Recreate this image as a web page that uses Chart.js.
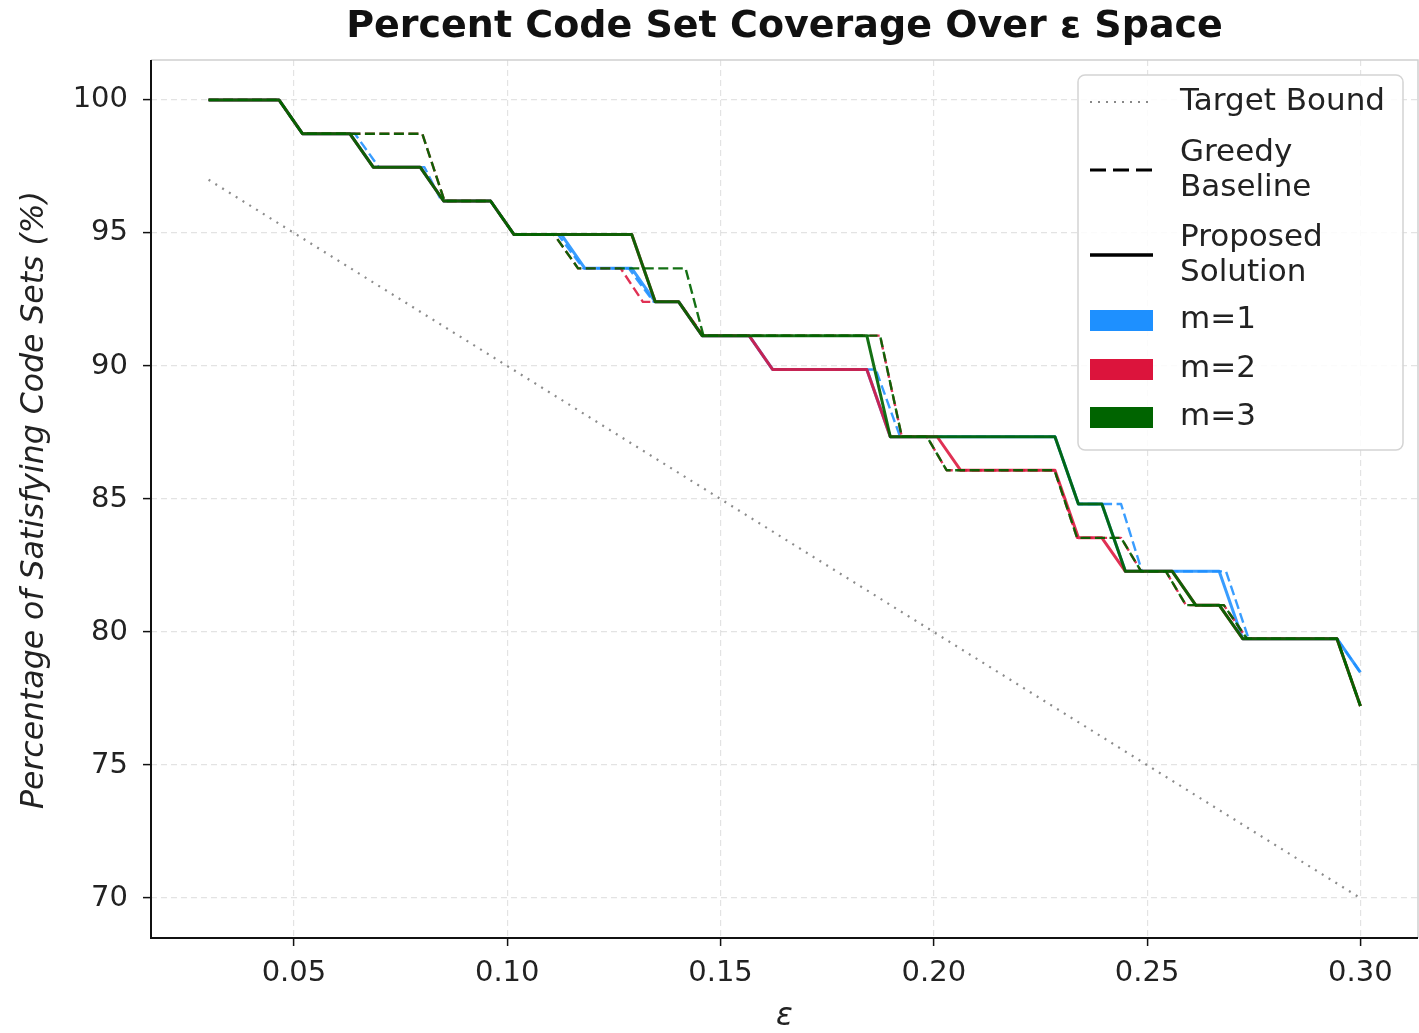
<!DOCTYPE html>
<html lang="en">
<head>
<meta charset="UTF-8">
<title>Percent Code Set Coverage Over ε Space</title>
<style>
    body { margin: 0; background: #ffffff; }
    #wrap { width: 1419px; height: 1033px; }
</style>
</head>
<body>
<div id="wrap"><canvas id="coverage-chart" width="1419" height="1033"></canvas></div>

<script src="https://cdn.jsdelivr.net/npm/chart.js"></script>
<script>
    // epsilon grid of the proposed solution (50 samples)
    const eps = [
        0.0300, 0.0355, 0.0410, 0.0465, 0.0520, 0.0576, 0.0631, 0.0686, 0.0741, 0.0796,
        0.0851, 0.0906, 0.0961, 0.1016, 0.1071, 0.1127, 0.1182, 0.1237, 0.1292, 0.1347,
        0.1402, 0.1457, 0.1512, 0.1567, 0.1622, 0.1678, 0.1733, 0.1788, 0.1843, 0.1898,
        0.1953, 0.2008, 0.2063, 0.2118, 0.2173, 0.2229, 0.2284, 0.2339, 0.2394, 0.2449,
        0.2504, 0.2559, 0.2614, 0.2669, 0.2724, 0.2780, 0.2835, 0.2890, 0.2945, 0.3000
    ];

    // proposed solution, % of satisfying code sets
    const propM1 = [
        100, 100, 100, 100, 98.73, 98.73, 98.73, 97.47, 97.47, 97.47,
        96.20, 96.20, 96.20, 94.94, 94.94, 94.94, 93.67, 93.67, 93.67, 92.41,
        92.41, 91.14, 91.14, 91.14, 89.87, 89.87, 89.87, 89.87, 89.87, 87.34,
        87.34, 87.34, 87.34, 87.34, 87.34, 87.34, 87.34, 84.81, 84.81, 82.28,
        82.28, 82.28, 82.28, 82.28, 79.75, 79.75, 79.75, 79.75, 79.75, 78.48
    ];
    const propM2 = [
        100, 100, 100, 100, 98.73, 98.73, 98.73, 97.47, 97.47, 97.47,
        96.20, 96.20, 96.20, 94.94, 94.94, 94.94, 94.94, 94.94, 94.94, 92.41,
        92.41, 91.14, 91.14, 91.14, 89.87, 89.87, 89.87, 89.87, 89.87, 87.34,
        87.34, 87.34, 86.08, 86.08, 86.08, 86.08, 86.08, 83.54, 83.54, 82.28,
        82.28, 82.28, 81.01, 81.01, 79.75, 79.75, 79.75, 79.75, 79.75, 77.22
    ];
    const propM3 = [
        100, 100, 100, 100, 98.73, 98.73, 98.73, 97.47, 97.47, 97.47,
        96.20, 96.20, 96.20, 94.94, 94.94, 94.94, 94.94, 94.94, 94.94, 92.41,
        92.41, 91.14, 91.14, 91.14, 91.14, 91.14, 91.14, 91.14, 91.14, 87.34,
        87.34, 87.34, 87.34, 87.34, 87.34, 87.34, 87.34, 84.81, 84.81, 82.28,
        82.28, 82.28, 81.01, 81.01, 79.75, 79.75, 79.75, 79.75, 79.75, 77.22
    ];

    // greedy baseline (breakpoints)
    const greedyM1X = [0.0300, 0.0465, 0.0520, 0.0643, 0.0699, 0.0806, 0.0846, 0.0961, 0.1016, 0.1119,
        0.1178, 0.1285, 0.1343, 0.1402, 0.1457, 0.1567, 0.1622, 0.1864, 0.1921, 0.2284,
        0.2339, 0.2439, 0.2488, 0.2685, 0.2738, 0.2945, 0.3000];
    const greedyM1Y = [100, 100, 98.73, 98.73, 97.47, 97.47, 96.20, 96.20, 94.94, 94.94,
        93.67, 93.67, 92.41, 92.41, 91.14, 91.14, 89.87, 89.87, 87.34, 87.34,
        84.81, 84.81, 82.28, 82.28, 79.75, 79.75, 78.48];

    const greedyM2X = [0.0300, 0.0465, 0.0520, 0.0801, 0.0853, 0.0961, 0.1016, 0.1110, 0.1166, 0.1266,
        0.1318, 0.1402, 0.1460, 0.1874, 0.1925, 0.1984, 0.2030, 0.2283, 0.2336, 0.2439,
        0.2486, 0.2544, 0.2591, 0.2680, 0.2734, 0.2945, 0.3000];
    const greedyM2Y = [100, 100, 98.73, 98.73, 96.20, 96.20, 94.94, 94.94, 93.67, 93.67,
        92.41, 92.41, 91.14, 91.14, 87.34, 87.34, 86.08, 86.08, 83.54, 83.54,
        82.28, 82.28, 81.01, 81.01, 79.75, 79.75, 77.22];

    const greedyM3X = [0.0300, 0.0465, 0.0520, 0.0801, 0.0853, 0.0961, 0.1016, 0.1110, 0.1166, 0.1418,
        0.1460, 0.1874, 0.1925, 0.1984, 0.2030, 0.2283, 0.2336, 0.2439, 0.2486, 0.2544,
        0.2591, 0.2680, 0.2734, 0.2945, 0.3000];
    const greedyM3Y = [100, 100, 98.73, 98.73, 96.20, 96.20, 94.94, 94.94, 93.67, 93.67,
        91.14, 91.14, 87.34, 87.34, 86.08, 86.08, 83.54, 83.54, 82.28, 82.28,
        81.01, 81.01, 79.75, 79.75, 77.22];

    // target bound 100(1 - eps)
    const targetX = [0.03, 0.30];
    const targetY = [97, 70];

    const xTicks = [0.05, 0.10, 0.15, 0.20, 0.25, 0.30];
    const yTicks = [70, 75, 80, 85, 90, 95, 100];

    const legendRows = ['Target Bound', 'Greedy\nBaseline', 'Proposed\nSolution', 'm=1', 'm=2', 'm=3'];

    const colM1 = 'rgba(30, 144, 255, 0.88)';
    const colM2 = 'rgba(220, 20, 60, 0.88)';
    const colM3 = 'rgba(0, 100, 0, 0.92)';
    const FONT = '"DejaVu Sans", "Liberation Sans", sans-serif';

    function pts(xs, ys) {
        return xs.map((x, i) => ({ x: x, y: ys[i] }));
    }

    function series(label, xs, ys, color, dashed, order) {
        return {
            label: label,
            data: pts(xs, ys),
            borderColor: color,
            borderWidth: dashed ? 2.4 : 3,
            borderDash: dashed ? [10, 4.5] : [],
            borderJoinStyle: 'round',
            pointRadius: 0,
            tension: 0,
            fill: false,
            order: order
        };
    }

    // title, axis labels, spines and the legend box
    const decorations = {
        id: 'decorations',
        afterDraw(chart) {
            const { ctx, chartArea: a } = chart;
            ctx.save();

            ctx.strokeStyle = '#d0d0d0';
            ctx.lineWidth = 1.5;
            ctx.beginPath();
            ctx.moveTo(a.left, a.top);
            ctx.lineTo(a.right, a.top);
            ctx.lineTo(a.right, a.bottom);
            ctx.stroke();

            ctx.strokeStyle = '#111';
            ctx.lineWidth = 2;
            ctx.beginPath();
            ctx.moveTo(a.left, a.top);
            ctx.lineTo(a.left, a.bottom);
            ctx.lineTo(a.right, a.bottom);
            ctx.stroke();

            ctx.fillStyle = '#111';
            ctx.textAlign = 'center';
            ctx.textBaseline = 'middle';
            ctx.font = 'bold 38px ' + FONT;
            ctx.fillText('Percent Code Set Coverage Over \u03B5 Space', (a.left + a.right) / 2, 27);

            ctx.fillStyle = '#222';
            ctx.font = 'italic 31px ' + FONT;
            ctx.fillText('\u03B5', (a.left + a.right) / 2, 1017);

            ctx.save();
            ctx.translate(35, 500);
            ctx.rotate(-Math.PI / 2);
            ctx.font = 'italic 31.5px ' + FONT;
            ctx.fillText('Percentage of Satisfying Code Sets (%)', 0, 0);
            ctx.restore();

            // legend
            const lx = 1078, ly = 75, lw = 325, lh = 375, r = 7;
            ctx.beginPath();
            ctx.moveTo(lx + r, ly);
            ctx.arcTo(lx + lw, ly, lx + lw, ly + lh, r);
            ctx.arcTo(lx + lw, ly + lh, lx, ly + lh, r);
            ctx.arcTo(lx, ly + lh, lx, ly, r);
            ctx.arcTo(lx, ly, lx + lw, ly, r);
            ctx.closePath();
            ctx.fillStyle = 'rgba(255,255,255,0.85)';
            ctx.fill();
            ctx.strokeStyle = '#d4d4d4';
            ctx.lineWidth = 1.5;
            ctx.stroke();

            const sx0 = 1090, sx1 = 1153, tx = 1180;
            const rowY = [102, 170, 255, 320, 369, 417];

            function sample(y, dash, width, color) {
                ctx.save();
                ctx.setLineDash(dash);
                ctx.lineWidth = width;
                ctx.strokeStyle = color;
                ctx.beginPath();
                ctx.moveTo(sx0, y);
                ctx.lineTo(sx1, y);
                ctx.stroke();
                ctx.restore();
            }
            sample(rowY[0], [2, 6], 2.2, '#888');
            sample(rowY[1], [16, 7], 3, '#000');
            sample(rowY[2], [], 3.5, '#000');
            ['#1e90ff', '#dc143c', '#006400'].forEach((c, i) => {
                ctx.fillStyle = c;
                ctx.fillRect(sx0, rowY[3 + i] - 10, sx1 - sx0, 21);
            });

            ctx.fillStyle = '#222';
            ctx.textAlign = 'left';
            ctx.font = '31px ' + FONT;
            legendRows.forEach((txt, i) => {
                const lines = txt.split('\n');
                lines.forEach((ln, j) => {
                    const off = (j - (lines.length - 1) / 2) * 35;
                    ctx.fillText(ln, tx, rowY[i] + off);
                });
            });

            ctx.restore();
        }
    };

    const ctx = document.getElementById('coverage-chart').getContext('2d');
    const chart = new Chart(ctx, {
        type: 'line',
        data: {
            datasets: [
                series('Proposed m=3', eps, propM3, colM3, false, 1),
                series('Greedy m=3', greedyM3X, greedyM3Y, colM3, true, 2),
                series('Proposed m=2', eps, propM2, colM2, false, 3),
                series('Greedy m=2', greedyM2X, greedyM2Y, colM2, true, 4),
                series('Proposed m=1', eps, propM1, colM1, false, 5),
                series('Greedy m=1', greedyM1X, greedyM1Y, colM1, true, 6),
                {
                    label: 'Target Bound',
                    data: pts(targetX, targetY),
                    borderColor: 'rgba(128,128,128,0.9)',
                    borderWidth: 2.2,
                    borderDash: [2, 6],
                    pointRadius: 0,
                    fill: false,
                    order: 7
                }
            ]
        },
        options: {
            responsive: false,
            animation: false,
            layout: { padding: { top: 60, right: 1, left: 0, bottom: 0 } },
            plugins: {
                legend: { display: false },
                title: { display: false },
                tooltip: { enabled: false }
            },
            scales: {
                x: {
                    type: 'linear',
                    min: 0.0165,
                    max: 0.3135,
                    afterBuildTicks: s => { s.ticks = xTicks.map(v => ({ value: v })); },
                    afterFit: s => { s.height = 95; },
                    ticks: {
                        callback: v => v.toFixed(2),
                        font: { family: FONT, size: 29 },
                        color: '#222',
                        padding: 10,
                        maxRotation: 0,
                        autoSkip: false
                    },
                    grid: {
                        color: 'rgba(0,0,0,0.11)',
                        lineWidth: 1.2,
                        tickLength: 8,
                        tickColor: '#111',
                        tickWidth: 1.5,
                        tickBorderDash: []
                    },
                    border: { display: false, dash: [6, 4] }
                },
                y: {
                    min: 68.5,
                    max: 101.5,
                    afterBuildTicks: s => { s.ticks = yTicks.map(v => ({ value: v })); },
                    afterFit: s => { s.width = 151; },
                    ticks: {
                        font: { family: FONT, size: 29 },
                        color: '#222',
                        padding: 15
                    },
                    grid: {
                        color: 'rgba(0,0,0,0.11)',
                        lineWidth: 1.2,
                        tickLength: 8,
                        tickColor: '#111',
                        tickWidth: 1.5,
                        tickBorderDash: []
                    },
                    border: { display: false, dash: [6, 4] }
                }
            }
        },
        plugins: [decorations]
    });
</script>
</body>
</html>
